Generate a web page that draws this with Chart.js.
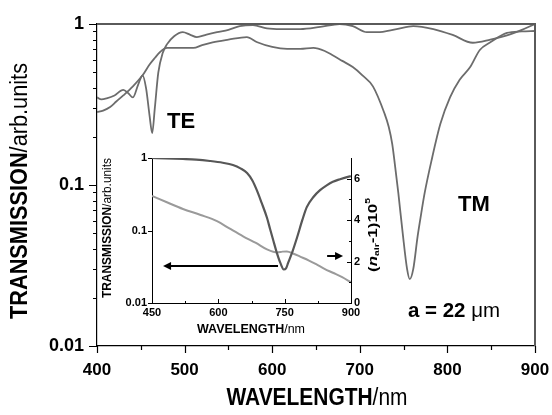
<!DOCTYPE html>
<html>
<head>
<meta charset="utf-8">
<script src="https://cdn.jsdelivr.net/npm/chart.js@4.4.1/dist/chart.umd.min.js"></script>
<style>
  body { margin: 0; background: #fff; }
  #wrap { position: relative; width: 552px; height: 415px; }
  #mainChart { position: absolute; left: 0; top: 0; }
  #insetChart { position: absolute; left: 95px; top: 140px; }
</style>
</head>
<body>
<div id="wrap">
  <canvas id="mainChart" width="552" height="415"></canvas>
  <canvas id="insetChart" width="300" height="205"></canvas>
</div>
<script>
// main spectra (wavelength in nm, transmission)
var teWavelength = [400, 405, 411, 420, 430, 436, 441, 447, 452, 456, 460, 463, 466, 470, 475, 480, 488, 498, 506, 514, 525, 537, 550, 563, 578, 594, 610, 632, 655, 677, 692, 708, 720, 742, 761, 784, 806, 829, 849, 868, 885, 900];
var teTransmission = [0.35, 0.34, 0.345, 0.36, 0.39, 0.37, 0.35, 0.42, 0.48, 0.40, 0.27, 0.21, 0.30, 0.50, 0.66, 0.75, 0.84, 0.89, 0.86, 0.83, 0.86, 0.89, 0.92, 0.97, 0.985, 0.94, 0.93, 0.93, 0.96, 1.0, 0.97, 0.89, 0.89, 0.93, 0.97, 0.93, 0.855, 0.765, 0.80, 0.85, 0.92, 1.0];

var tmWavelength = [400, 407, 415, 422, 430, 441, 452, 460, 466, 472, 480, 495, 510, 520, 532, 550, 571, 583, 600, 617, 632, 647, 660, 669, 680, 692, 703, 715, 728, 733, 737, 740, 744, 749, 754, 757, 761, 766, 770, 774, 782, 792, 803, 814, 826, 837, 849, 868, 885, 900];
var tmTransmission = [0.284, 0.29, 0.305, 0.33, 0.36, 0.41, 0.48, 0.56, 0.615, 0.67, 0.71, 0.71, 0.71, 0.74, 0.77, 0.80, 0.83, 0.77, 0.72, 0.70, 0.70, 0.71, 0.68, 0.64, 0.59, 0.54, 0.48, 0.41, 0.28, 0.23, 0.18, 0.135, 0.089, 0.05, 0.03, 0.026, 0.03, 0.048, 0.066, 0.089, 0.143, 0.24, 0.35, 0.45, 0.54, 0.69, 0.77, 0.88, 0.90, 0.905];

// inset spectra
var insetWavelength = [450, 480, 520, 550, 581, 610, 633, 650, 665, 677, 687, 698, 710, 717, 724, 732, 740, 748, 753, 758, 768, 778, 790, 800, 815, 830, 845, 859, 875, 893, 900];
var insetTransmission = [1.0, 0.99, 0.97, 0.95, 0.91, 0.86, 0.80, 0.72, 0.62, 0.49, 0.36, 0.24, 0.15, 0.105, 0.074, 0.05, 0.036, 0.029, 0.03, 0.036, 0.052, 0.08, 0.14, 0.21, 0.29, 0.36, 0.42, 0.47, 0.51, 0.55, 0.56];
var nAirWavelength = [450, 485, 520, 560, 597, 625, 656, 685, 710, 733, 745, 755, 770, 785, 805, 823, 840, 859, 880, 900];
var nAirValue = [5.17, 4.85, 4.54, 4.25, 3.95, 3.6, 3.22, 2.9, 2.59, 2.44, 2.48, 2.49, 2.38, 2.24, 2.05, 1.85, 1.65, 1.46, 1.25, 1.0];

// ticks
var mainXTicks = [400, 500, 600, 700, 800, 900];
var mainXMinor = [450, 550, 650, 750, 850];
var mainYTicks = [0.01, 0.1, 1];
var mainYMinor = [0.02, 0.03, 0.04, 0.05, 0.06, 0.07, 0.08, 0.09, 0.2, 0.3, 0.4, 0.5, 0.6, 0.7, 0.8, 0.9];
var insetXTicks = [450, 600, 750, 900];
var insetXMinor = [525, 675, 825];
var insetYTicks = [0.01, 0.1, 1];
var insetY2Ticks = [0, 2, 4, 6];
var insetY2Minor = [1, 3, 5];

var FONT = "'Liberation Sans', Arial, sans-serif";

function pairs(xs, ys) {
  return xs.map((v, i) => ({ x: v, y: ys[i] }));
}

// fixed axis sizes, no extra label padding
function fixWidth(w) {
  return (scale) => { scale.width = w; scale.paddingTop = 0; scale.paddingBottom = 0; };
}
function fixHeight(h) {
  return (scale) => { scale.height = h; scale.paddingLeft = 0; scale.paddingRight = 0; };
}

// draw a run of text pieces centred on (cx, cy), optionally rotated and squeezed to a width
function drawText(ctx, parts, cx, cy, angle, width) {
  ctx.save();
  ctx.translate(cx, cy);
  ctx.rotate(angle);
  var total = 0;
  parts.forEach((p) => {
    ctx.font = p.font;
    p.w = ctx.measureText(p.t).width;
    total += p.w;
  });
  if (width) ctx.scale(width / total, 1);
  var x = -total / 2;
  ctx.fillStyle = "#000";
  ctx.textBaseline = "middle";
  parts.forEach((p) => {
    ctx.font = p.font;
    ctx.fillText(p.t, x, p.dy || 0);
    x += p.w;
  });
  ctx.restore();
}

function arrow(ctx, x1, y1, x2, y2) {
  var dir = x2 > x1 ? 1 : -1;
  ctx.beginPath();
  ctx.moveTo(x1, y1);
  ctx.lineTo(x2 - dir * 5, y2);
  ctx.stroke();
  ctx.beginPath();
  ctx.moveTo(x2, y2);
  ctx.lineTo(x2 - dir * 8, y2 - 4);
  ctx.lineTo(x2 - dir * 8, y2 + 4);
  ctx.closePath();
  ctx.fill();
}

/** MAIN CHART */
var mainDecor = {
  id: "mainDecor",
  afterDraw(chart) {
    const { ctx, chartArea: a, scales } = chart;
    const x = scales.x, y = scales.y;
    ctx.save();
    // frame top / right
    ctx.strokeStyle = "#5a5a5a";
    ctx.lineWidth = 2;
    ctx.beginPath();
    ctx.moveTo(a.left, a.top);
    ctx.lineTo(a.right, a.top);
    ctx.lineTo(a.right, a.bottom);
    ctx.stroke();
    // tick marks
    ctx.strokeStyle = "#000";
    ctx.lineWidth = 1.2;
    ctx.beginPath();
    mainXTicks.forEach((v) => {
      const px = Math.round(x.getPixelForValue(v)) + 0.5;
      ctx.moveTo(px, a.bottom); ctx.lineTo(px, a.bottom + 7);
    });
    mainXMinor.forEach((v) => {
      const px = Math.round(x.getPixelForValue(v)) + 0.5;
      ctx.moveTo(px, a.bottom); ctx.lineTo(px, a.bottom + 4);
    });
    mainYTicks.forEach((v) => {
      const py = Math.round(y.getPixelForValue(v)) + 0.5;
      ctx.moveTo(a.left, py); ctx.lineTo(a.left - 8, py);
    });
    mainYMinor.forEach((v) => {
      const py = Math.round(y.getPixelForValue(v)) + 0.5;
      ctx.moveTo(a.left, py); ctx.lineTo(a.left - 4, py);
    });
    ctx.stroke();
    ctx.restore();

    // axis titles
    drawText(ctx, [
      { t: "TRANSMISSION", font: "bold 23px " + FONT },
      { t: "/arb.units", font: "23px " + FONT }
    ], 21, 191, -Math.PI / 2, 256);
    drawText(ctx, [
      { t: "WAVELENGTH", font: "bold 23px " + FONT },
      { t: "/nm", font: "23px " + FONT }
    ], 317, 399, 0, 181);

    // labels
    drawText(ctx, [{ t: "TE", font: "bold 22px " + FONT }], 181, 122, 0);
    drawText(ctx, [{ t: "TM", font: "bold 22px " + FONT }], 474, 205, 0);
    drawText(ctx, [
      { t: "a = 22 ", font: "bold 20px " + FONT },
      { t: "\u03bcm", font: "20px " + FONT }
    ], 454, 311, 0, 92);
  }
};

new Chart(document.getElementById("mainChart"), {
  type: "line",
  data: {
    datasets: [{
      label: "TE",
      data: pairs(teWavelength, teTransmission),
      borderColor: "#6c6c6c",
      borderWidth: 1.8,
      pointRadius: 0,
      cubicInterpolationMode: "monotone"
    }, {
      label: "TM",
      data: pairs(tmWavelength, tmTransmission),
      borderColor: "#6c6c6c",
      borderWidth: 1.8,
      pointRadius: 0,
      cubicInterpolationMode: "monotone"
    }]
  },
  options: {
    responsive: false,
    animation: false,
    layout: { padding: { left: 0, top: 24, right: 17, bottom: 0 } },
    plugins: { legend: { display: false }, tooltip: { enabled: false } },
    scales: {
      x: {
        type: "linear",
        min: 400,
        max: 900,
        afterBuildTicks: (scale) => { scale.ticks = mainXTicks.map((v) => ({ value: v })); },
        afterFit: fixHeight(69),
        ticks: { color: "#000", padding: 14, maxRotation: 0, font: { family: FONT, size: 17, weight: "bold" } },
        grid: { display: false, drawTicks: false },
        border: { color: "#000", width: 1.2 }
      },
      y: {
        type: "logarithmic",
        min: 0.01,
        max: 1,
        afterBuildTicks: (scale) => { scale.ticks = mainYTicks.map((v) => ({ value: v })); },
        afterFit: fixWidth(97),
        ticks: {
          color: "#000",
          padding: 13,
          font: { family: FONT, size: 18, weight: "bold" },
          callback: (v) => String(v)
        },
        grid: { display: false, drawTicks: false },
        border: { color: "#000", width: 1.2 }
      }
    }
  },
  plugins: [mainDecor]
});

/** INSET CHART */
var insetDecor = {
  id: "insetDecor",
  afterDraw(chart) {
    const { ctx, chartArea: a, scales } = chart;
    const x = scales.x, y = scales.y, y2 = scales.y2;
    ctx.save();
    ctx.strokeStyle = "#000";
    ctx.lineWidth = 1;
    ctx.beginPath();
    insetXTicks.forEach((v) => {
      const px = Math.round(x.getPixelForValue(v)) + 0.5;
      ctx.moveTo(px, a.bottom); ctx.lineTo(px, a.bottom - 4);
    });
    insetXMinor.forEach((v) => {
      const px = Math.round(x.getPixelForValue(v)) + 0.5;
      ctx.moveTo(px, a.bottom); ctx.lineTo(px, a.bottom - 2);
    });
    insetYTicks.forEach((v) => {
      const py = Math.round(y.getPixelForValue(v)) + 0.5;
      ctx.moveTo(a.left, py); ctx.lineTo(a.left - 4, py);
    });
    insetY2Ticks.forEach((v) => {
      const py = Math.round(y2.getPixelForValue(v)) + 0.5;
      ctx.moveTo(a.right, py); ctx.lineTo(a.right - 4, py);
    });
    insetY2Minor.forEach((v) => {
      const py = Math.round(y2.getPixelForValue(v)) + 0.5;
      ctx.moveTo(a.right, py); ctx.lineTo(a.right - 2, py);
    });
    ctx.stroke();

    // arrows pointing at each curve's axis
    ctx.strokeStyle = "#000";
    ctx.fillStyle = "#000";
    ctx.lineWidth = 2;
    const ay = y.getPixelForValue(0.0324);
    arrow(ctx, x.getPixelForValue(735), ay, x.getPixelForValue(475), ay);
    const by = y2.getPixelForValue(2.27);
    arrow(ctx, x.getPixelForValue(846), by, x.getPixelForValue(882), by);
    ctx.restore();

    drawText(ctx, [
      { t: "TRANSMISSION", font: "bold 12px " + FONT },
      { t: "/arb.units", font: "12px " + FONT }
    ], 13, 88, -Math.PI / 2, 140);
    drawText(ctx, [
      { t: "WAVELENGTH", font: "bold 12px " + FONT },
      { t: "/nm", font: "12px " + FONT }
    ], 156, 190, 0, 108);
    drawText(ctx, [
      { t: "(", font: "bold 13px " + FONT },
      { t: "n", font: "italic bold 13px " + FONT },
      { t: "air", font: "bold 8px " + FONT, dy: 4 },
      { t: "-1)10", font: "bold 13px " + FONT },
      { t: "5", font: "bold 8px " + FONT, dy: -5 }
    ], 278, 95, -Math.PI / 2, 74);
  }
};

new Chart(document.getElementById("insetChart"), {
  type: "line",
  data: {
    datasets: [{
      label: "transmission",
      data: pairs(insetWavelength, insetTransmission),
      yAxisID: "y",
      borderColor: "#575757",
      borderWidth: 2.2,
      pointRadius: 0,
      cubicInterpolationMode: "monotone"
    }, {
      label: "n_air",
      data: pairs(nAirWavelength, nAirValue),
      yAxisID: "y2",
      borderColor: "#9a9a9a",
      borderWidth: 2,
      pointRadius: 0,
      cubicInterpolationMode: "monotone"
    }]
  },
  options: {
    responsive: false,
    animation: false,
    layout: { padding: { left: 0, top: 18, right: 0, bottom: 0 } },
    plugins: { legend: { display: false }, tooltip: { enabled: false } },
    scales: {
      x: {
        type: "linear",
        min: 450,
        max: 900,
        afterBuildTicks: (scale) => { scale.ticks = insetXTicks.map((v) => ({ value: v })); },
        afterFit: fixHeight(42),
        ticks: { color: "#000", padding: 3, maxRotation: 0, font: { family: FONT, size: 11, weight: "bold" } },
        grid: { display: false, drawTicks: false },
        border: { color: "#000", width: 1 }
      },
      y: {
        type: "logarithmic",
        position: "left",
        min: 0.01,
        max: 1,
        afterBuildTicks: (scale) => { scale.ticks = insetYTicks.map((v) => ({ value: v })); },
        afterFit: fixWidth(57),
        ticks: { color: "#000", padding: 5, font: { family: FONT, size: 11, weight: "bold" }, callback: (v) => String(v) },
        grid: { display: false, drawTicks: false },
        border: { color: "#000", width: 1 }
      },
      y2: {
        type: "linear",
        position: "right",
        min: 0,
        max: 7,
        afterBuildTicks: (scale) => { scale.ticks = insetY2Ticks.map((v) => ({ value: v })); },
        afterFit: fixWidth(44),
        ticks: { color: "#000", padding: 3, font: { family: FONT, size: 11, weight: "bold" } },
        grid: { display: false, drawTicks: false },
        border: { color: "#000", width: 1 }
      }
    }
  },
  plugins: [insetDecor]
});
</script>
</body>
</html>
